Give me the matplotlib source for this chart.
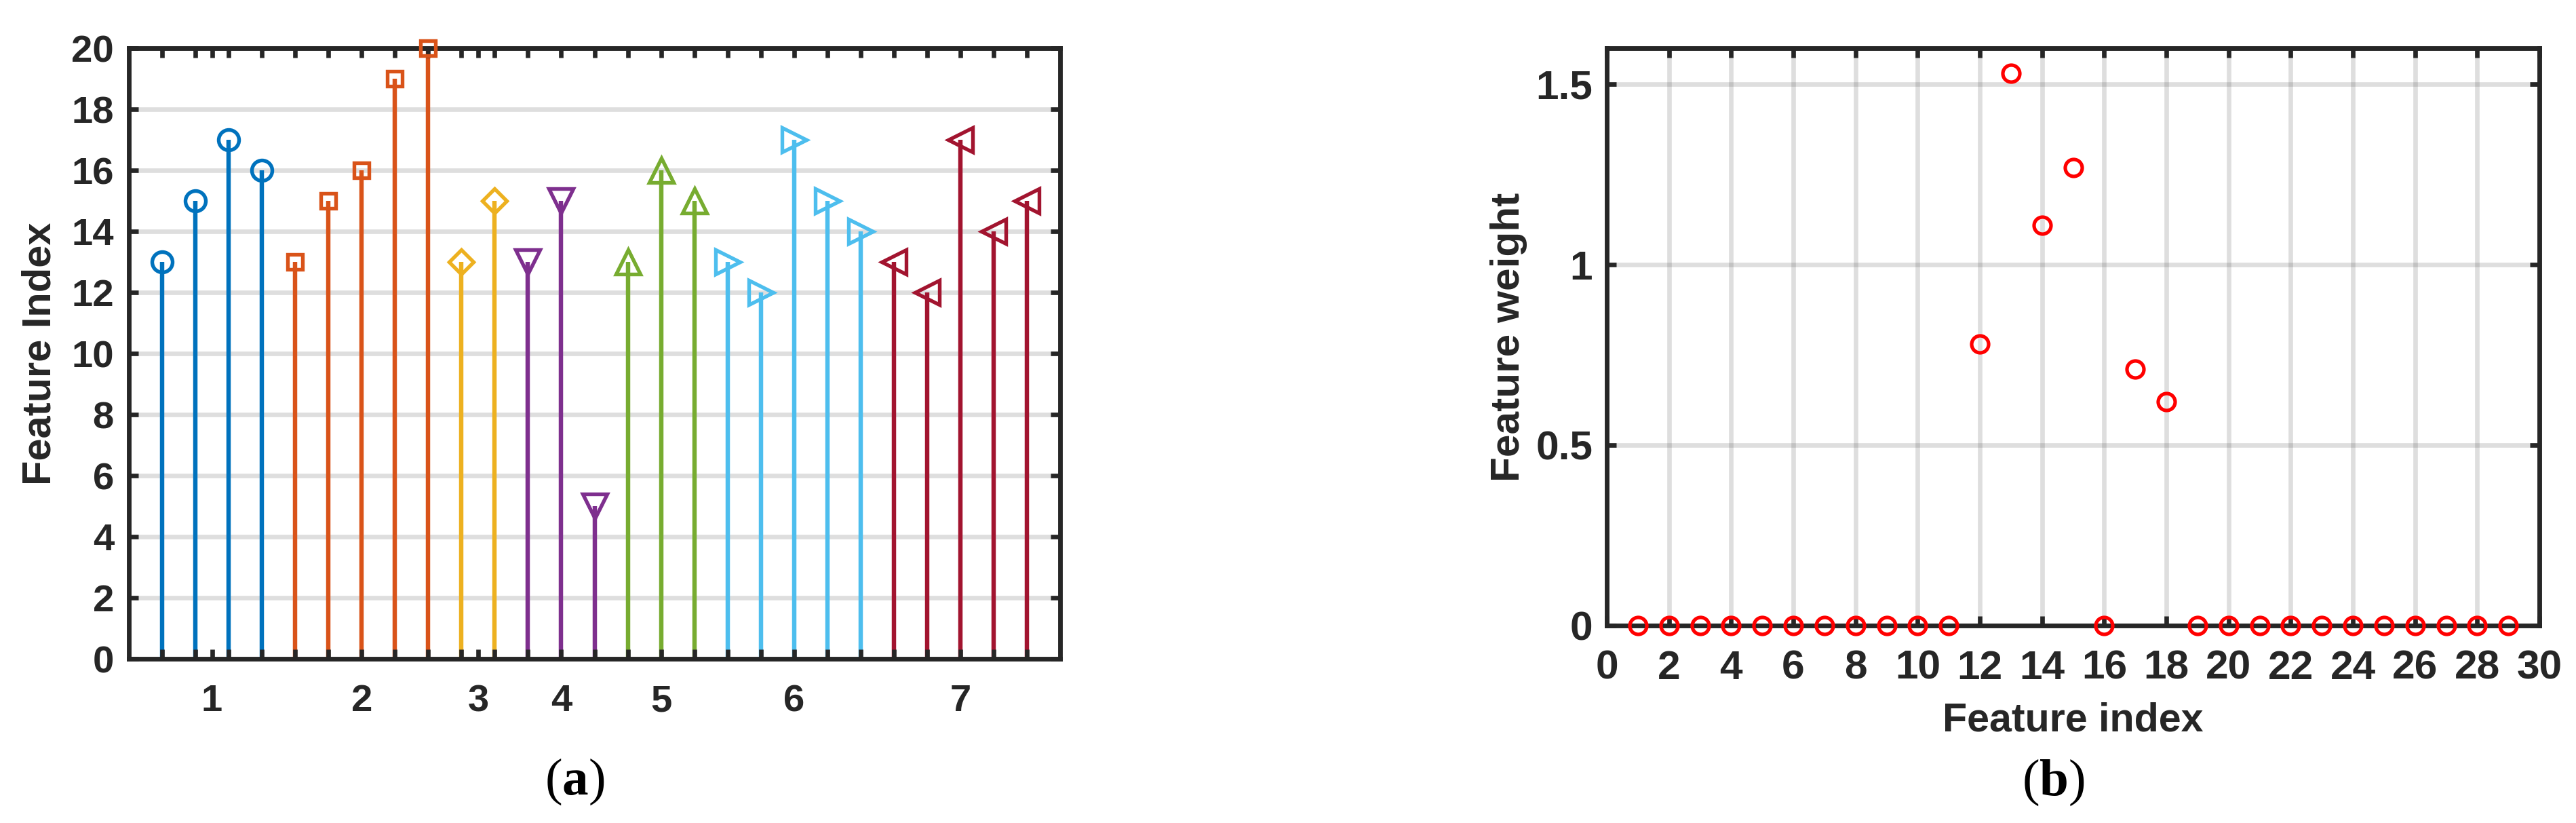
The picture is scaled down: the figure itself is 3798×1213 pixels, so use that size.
import numpy as np
import matplotlib
matplotlib.use('Agg')
import matplotlib.pyplot as plt

# Panel (a): selected feature indices per group
group_labels = ['1', '2', '3', '4', '5', '6', '7']
group_values = [
    [13, 15, 17, 16],
    [13, 15, 16, 19, 20],
    [13, 15],
    [13, 15, 5],
    [13, 16, 15],
    [13, 12, 17, 15, 14],
    [13, 12, 17, 14, 15],
]
group_colors = ['#0072BD', '#D95319', '#EDB120', '#7E2F8E', '#77AC30', '#4DBEEE', '#A2142F']
group_markers = ['o', 's', 'D', 'v', '^', '>', '<']
marker_sizes = [7.2, 5.2, 6.0, 8.8, 8.8, 8.8, 8.8]

# Panel (b): feature weights
weight_index = list(range(1, 30))
weights = [0, 0, 0, 0, 0, 0, 0, 0, 0, 0, 0,
           0.78, 1.53, 1.11, 1.27, 0, 0.71, 0.62,
           0, 0, 0, 0, 0, 0, 0, 0, 0, 0, 0]

plt.rcParams['font.family'] = ['Liberation Sans', 'DejaVu Sans']
plt.rcParams['font.weight'] = 'bold'
plt.rcParams['mathtext.fontset'] = 'custom'
plt.rcParams['mathtext.rm'] = 'Liberation Serif'
plt.rcParams['mathtext.bf'] = 'Liberation Serif:bold'

dark = '#262626'
spine_w = 1.65

fig = plt.figure(figsize=(3798 / 300, 1213 / 300), dpi=300)
ax1 = fig.add_axes([190 / 3798, 1 - 971 / 1213, 1373 / 3798, 900 / 1213])
ax2 = fig.add_axes([2369 / 3798, 1 - 922 / 1213, 1375 / 3798, 851 / 1213])


def style_axes(ax, fsize, xpad, ypad):
    for s in ax.spines.values():
        s.set_linewidth(spine_w)
        s.set_color(dark)
    ax.tick_params(which='both', direction='in', top=True, right=True,
                   length=3.4, width=1.6, color=dark, labelcolor=dark,
                   labelsize=fsize)
    ax.tick_params(axis='x', which='major', pad=xpad)
    ax.tick_params(axis='y', which='major', pad=ypad)
    for lab in ax.get_xticklabels() + ax.get_yticklabels():
        lab.set_fontweight('bold')


# ---- panel (a) ----
pos = 1
centers = []
for vals, col, mk, ms in zip(group_values, group_colors, group_markers, marker_sizes):
    x = np.arange(pos, pos + len(vals))
    centers.append(x.mean())
    ml, sl, bl = ax1.stem(x, vals)
    plt.setp(sl, color=col, linewidth=1.55, zorder=2)
    plt.setp(ml, color=col, marker=mk, markersize=ms, markerfacecolor='none',
             markeredgewidth=1.3, zorder=3, clip_on=False)
    bl.set_visible(False)
    pos += len(vals)

# horizontal grid behind the stems
for yv in range(2, 20, 2):
    ax1.axhline(yv, color=dark, alpha=0.15, linewidth=1.6, zorder=0.5)

ax1.set_xlim(0, 28)
ax1.set_ylim(0, 20)
ax1.set_yticks(range(0, 21, 2))
ax1.set_xticks(centers)
ax1.set_xticklabels(group_labels)
ax1.set_xticks(range(1, pos), minor=True)
ax1.set_axisbelow(False)
style_axes(ax1, 13.5, 9.0, 5.3)
ax1.set_ylabel('Feature Index', fontsize=14.3, fontweight='bold', color=dark)
ax1.yaxis.label.set_va('center')
ax1.yaxis.set_label_coords((59 - 190) / 1373, 0.5)

# ---- panel (b) ----
ax2.plot(weight_index, weights, linestyle='none', marker='o', markersize=6.0,
         markerfacecolor='none', markeredgecolor='#FF0000', markeredgewidth=1.25,
         zorder=3, clip_on=False)
ax2.set_xlim(0, 30)
ax2.set_ylim(0, 1.6)
ax2.set_xticks(range(0, 31, 2))
ax2.set_yticks([0, 0.5, 1, 1.5])
ax2.set_yticklabels(['0', '0.5', '1', '1.5'])
ax2.grid(True, color=dark, alpha=0.15, linewidth=1.6)
ax2.set_axisbelow(True)
style_axes(ax2, 14.5, 8.6, 5.0)
ax2.set_xlabel('Feature index', fontsize=14.2, fontweight='bold', color=dark)
ax2.xaxis.label.set_va('center')
ax2.xaxis.set_label_coords(0.5, (922 - 1062) / 851)
ax2.set_ylabel('Feature weight', fontsize=14.5, fontweight='bold', color=dark)
ax2.yaxis.label.set_va('center')
ax2.yaxis.set_label_coords((2224 - 2369) / 1375, 0.5)

# panel captions
fig.text(847 / 3798, 1 - 1152 / 1213, r'($\mathbf{a}$)', fontsize=18.5,
         ha='center', va='center', family='Liberation Serif', fontweight='normal')
fig.text(3027 / 3798, 1 - 1153 / 1213, r'($\mathbf{b}$)', fontsize=18.5,
         ha='center', va='center', family='Liberation Serif', fontweight='normal')

fig.savefig('out.png', dpi=300, facecolor='white')
